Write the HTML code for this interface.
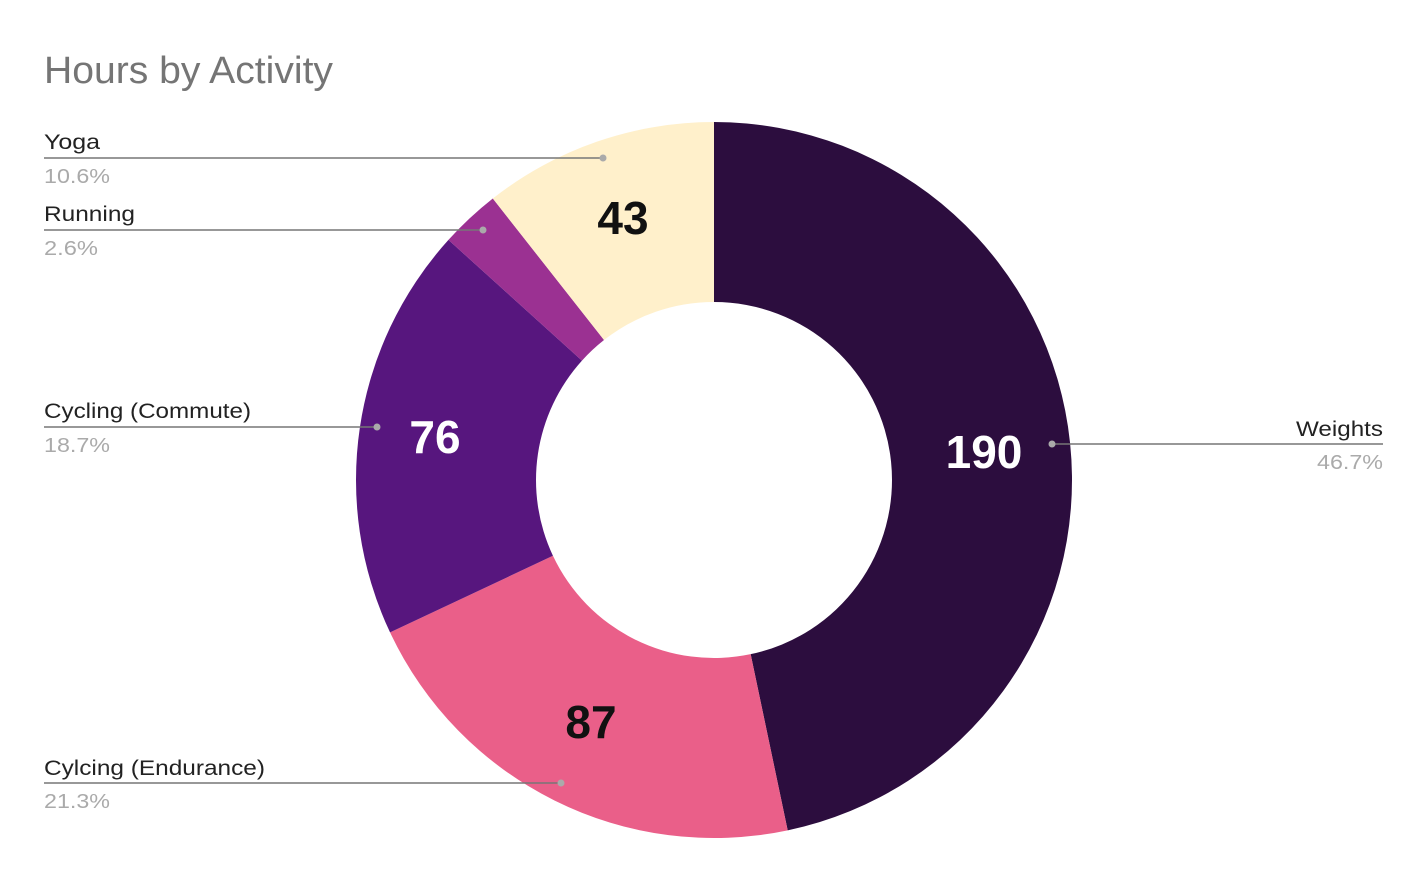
<!DOCTYPE html>
<html><head><meta charset="utf-8"><style>
html,body{margin:0;padding:0;background:#fff;}
svg{display:block;font-family:"Liberation Sans",Arial,sans-serif;}
</style></head><body>
<svg id="s" width="1428" height="882" viewBox="0 0 1428 882">
<text x="44" y="83" font-size="38" fill="#757575" textLength="289" lengthAdjust="spacingAndGlyphs">Hours by Activity</text>
<g id="slices"></g>
<g font-size="21" fill="#222">
<text x="44" y="149" textLength="56" lengthAdjust="spacingAndGlyphs">Yoga</text>
<text x="44" y="221" textLength="91" lengthAdjust="spacingAndGlyphs">Running</text>
<text x="44" y="418" textLength="207" lengthAdjust="spacingAndGlyphs">Cycling (Commute)</text>
<text x="44" y="775" textLength="221" lengthAdjust="spacingAndGlyphs">Cylcing (Endurance)</text>
<text x="1296" y="436" textLength="87" lengthAdjust="spacingAndGlyphs">Weights</text>
</g>
<g font-size="20" fill="#aaa">
<text x="44" y="183" textLength="66" lengthAdjust="spacingAndGlyphs">10.6%</text>
<text x="44" y="255" textLength="54" lengthAdjust="spacingAndGlyphs">2.6%</text>
<text x="44" y="452" textLength="66" lengthAdjust="spacingAndGlyphs">18.7%</text>
<text x="44" y="808" textLength="66" lengthAdjust="spacingAndGlyphs">21.3%</text>
<text x="1317" y="469" textLength="66" lengthAdjust="spacingAndGlyphs">46.7%</text>
</g>
<g stroke="#777" stroke-width="1.5">
<line x1="44" y1="158" x2="603" y2="158"/>
<line x1="44" y1="230" x2="483" y2="230"/>
<line x1="44" y1="427" x2="377" y2="427"/>
<line x1="44" y1="783" x2="561" y2="783"/>
<line x1="1052" y1="444" x2="1383" y2="444"/>
</g>
<g fill="#aaa">
<circle cx="603" cy="158" r="3.5"/><circle cx="483" cy="230" r="3.5"/>
<circle cx="377" cy="427" r="3.5"/><circle cx="561" cy="783" r="3.5"/>
<circle cx="1052" cy="444" r="3.5"/>
</g>
<g font-size="46" font-weight="bold" text-anchor="middle">
<text x="623" y="234" fill="#111">43</text>
<text x="435" y="453" fill="#fff">76</text>
<text x="591" y="738" fill="#111">87</text>
<text x="984" y="468" fill="#fff">190</text>
</g>
</svg>
<script>
var cx=714,cy=480,R=358,r=178;
var d=[[46.7,"#2c0d3e"],[21.3,"#ea5f89"],[18.7,"#57167e"],[2.7,"#9b3192"],[10.6,"#fff0cb"]];
var tot=0;d.forEach(function(x){tot+=x[0];});
var a=0,g=document.getElementById("slices"),h="";
function p(rad,ang){return [cx+rad*Math.sin(ang),cy-rad*Math.cos(ang)];}
d.forEach(function(x){
 var a0=a/tot*2*Math.PI;a+=x[0];var a1=a/tot*2*Math.PI;
 var L=(a1-a0)>Math.PI?1:0;
 var A=p(R,a0),B=p(R,a1),C=p(r,a1),D=p(r,a0);
 h+='<path fill="'+x[1]+'" d="M'+A+' A'+R+','+R+' 0 '+L+' 1 '+B+' L'+C+' A'+r+','+r+' 0 '+L+' 0 '+D+'Z"/>';
});
g.innerHTML=h;
</script>
</body></html>
